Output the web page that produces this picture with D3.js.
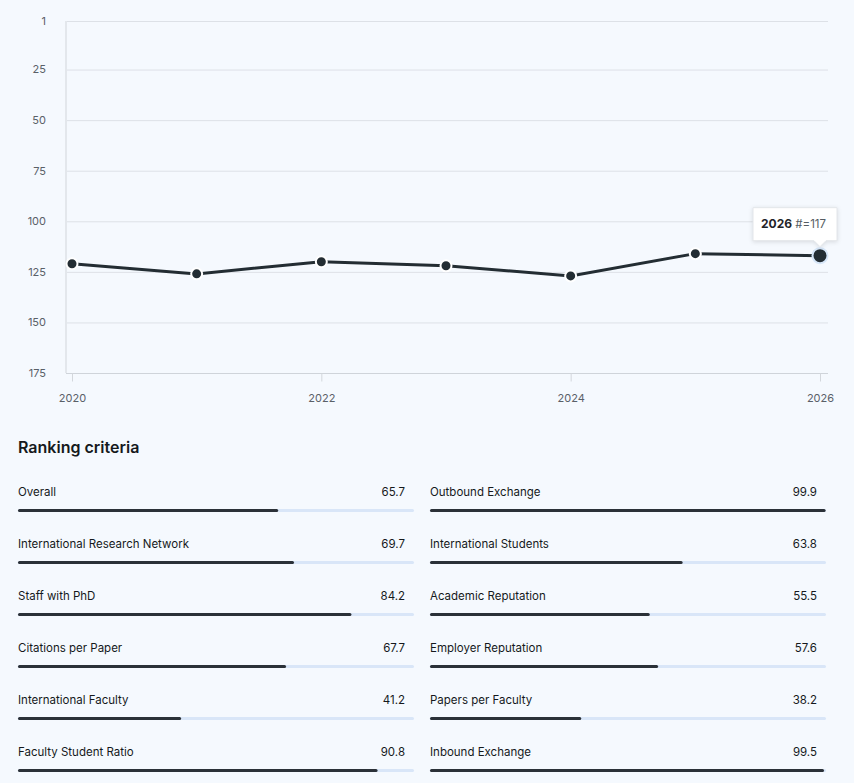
<!DOCTYPE html>
<html>
<head>
<meta charset="utf-8">
<title>Ranking history</title>
<script src="https://cdn.jsdelivr.net/npm/d3@7"></script>
<style>
  body { margin: 0; background: #f5f9fe; }
  svg { display: block; font-family: Inter, "Noto Sans", sans-serif; }
</style>
</head>
<body>
<div id="chart"></div>
<script>
// rank per year (lower is better)
var years = [2020, 2021, 2022, 2023, 2024, 2025, 2026];
var ranks = [121, 126, 120, 122, 127, 116, 117];
var yTicks = [1, 25, 50, 75, 100, 125, 150, 175];
var xTicks = [2020, 2022, 2024, 2026];

var leftNames = ["Overall", "International Research Network", "Staff with PhD",
  "Citations per Paper", "International Faculty", "Faculty Student Ratio"];
var leftScores = [65.7, 69.7, 84.2, 67.7, 41.2, 90.8];
var rightNames = ["Outbound Exchange", "International Students", "Academic Reputation",
  "Employer Reputation", "Papers per Faculty", "Inbound Exchange"];
var rightScores = [99.9, 63.8, 55.5, 57.6, 38.2, 99.5];

var W = 854, H = 783;
var ink = "#232d33";

var svg = d3.select("#chart").append("svg").attr("width", W).attr("height", H);

var x = d3.scaleLinear().domain([2020, 2026]).range([72, 820]);
var y = d3.scaleLinear().domain([1, 175]).range([21, 373]);
var plotL = 66, plotR = 828;

// grid lines
svg.append("g").selectAll("line").data(yTicks.slice(0, -1)).enter().append("line")
  .attr("x1", plotL).attr("x2", plotR)
  .attr("y1", function (d) { return y(d) + 0.5; })
  .attr("y2", function (d) { return y(d) + 0.5; })
  .attr("stroke", "#dde1e7").attr("stroke-width", 1);

// y labels
svg.append("g").selectAll("text").data(yTicks).enter().append("text")
  .attr("x", 46).attr("y", function (d) { return y(d); })
  .attr("dy", "0.35em").attr("text-anchor", "end")
  .attr("font-size", 11).attr("fill", "#5a6068")
  .text(function (d) { return d; });

// left + bottom axis lines
svg.append("line").attr("x1", plotL).attr("x2", plotL).attr("y1", y(1)).attr("y2", y(175))
  .attr("stroke", "#e3e7ec").attr("stroke-width", 2);

var xAxis = d3.axisBottom(x).tickValues(xTicks).tickFormat(d3.format("d"))
  .tickSize(8).tickPadding(13);
var gx = svg.append("g").attr("transform", "translate(0," + (y(175) + 0.5) + ")").call(xAxis);
gx.select(".domain").attr("d", "M" + plotL + ",0H" + plotR).attr("stroke", "#cfd4da");
gx.selectAll(".tick line").attr("stroke", "#d3d7dc");
gx.selectAll(".tick text").attr("fill", "#5a6068").attr("font-size", 11)
  .attr("font-family", "Inter, sans-serif");

// line
var line = d3.line()
  .x(function (d, i) { return x(years[i]); })
  .y(function (d) { return y(d); });
svg.append("path").datum(ranks).attr("d", line)
  .attr("fill", "none").attr("stroke", ink).attr("stroke-width", 3);

svg.append("g").selectAll("circle").data(ranks).enter().append("circle")
  .attr("cx", function (d, i) { return x(years[i]); })
  .attr("cy", function (d) { return y(d); })
  .attr("r", function (d, i) { return i === ranks.length - 1 ? 7.5 : 5.5; })
  .attr("fill", ink)
  .attr("stroke", function (d, i) { return i === ranks.length - 1 ? "#d6e6f8" : "#ffffff"; })
  .attr("stroke-width", 2);

// tooltip on last point
var lastX = x(years[years.length - 1]), lastY = y(ranks[ranks.length - 1]);
var tip = svg.append("g").attr("transform", "translate(" + lastX + "," + (lastY - 15) + ")");
tip.append("path")
  .attr("d", "M-67,-33H17V0H6L0,6L-6,0H-67Z")
  .attr("fill", "#ffffff").attr("stroke", "#e3e6ea").attr("stroke-width", 1)
  .style("filter", "drop-shadow(0 1px 2px rgba(0,0,0,0.12))");
var tt = tip.append("text").attr("x", -59).attr("y", -12.5).attr("font-size", 12);
tt.append("tspan").attr("font-weight", 700).attr("fill", "#1f2428").text(years[years.length - 1]);
tt.append("tspan").attr("fill", "#555b62").attr("font-size", 11.5).text(" #=" + ranks[ranks.length - 1]);

// ranking criteria
svg.append("text").attr("x", 18).attr("y", 453).attr("font-size", 16)
  .attr("font-weight", 600).attr("fill", "#15191c").text("Ranking criteria");

var barW = d3.scaleLinear().domain([0, 100]).range([0, 396]);
var rowY = d3.scaleLinear().domain([0, 1]).range([491.5, 543.5]);

function column(names, scores, x0) {
  var g = svg.append("g").attr("transform", "translate(" + x0 + ",0)");
  var rows = g.selectAll("g").data(names).enter().append("g")
    .attr("transform", function (d, i) { return "translate(0," + rowY(i) + ")"; });
  rows.append("text").attr("x", 0).attr("dy", "0.35em").attr("font-size", 11.5)
    .attr("fill", "#15191c").text(function (d) { return d; });
  rows.append("text").attr("x", 387).attr("dy", "0.35em").attr("text-anchor", "end")
    .attr("font-size", 11.5).attr("fill", "#15191c")
    .text(function (d, i) { return scores[i]; });
  rows.append("line").attr("x1", 1.5).attr("x2", barW(100) - 1.5)
    .attr("y1", 19).attr("y2", 19)
    .attr("stroke", "#d9e6f8").attr("stroke-width", 3).attr("stroke-linecap", "round");
  rows.append("line").attr("x1", 1.5)
    .attr("x2", function (d, i) { return barW(scores[i]) - 1.5; })
    .attr("y1", 19).attr("y2", 19)
    .attr("stroke", "#2b3138").attr("stroke-width", 3).attr("stroke-linecap", "round");
}
column(leftNames, leftScores, 18);
column(rightNames, rightScores, 430);
</script>
</body>
</html>
